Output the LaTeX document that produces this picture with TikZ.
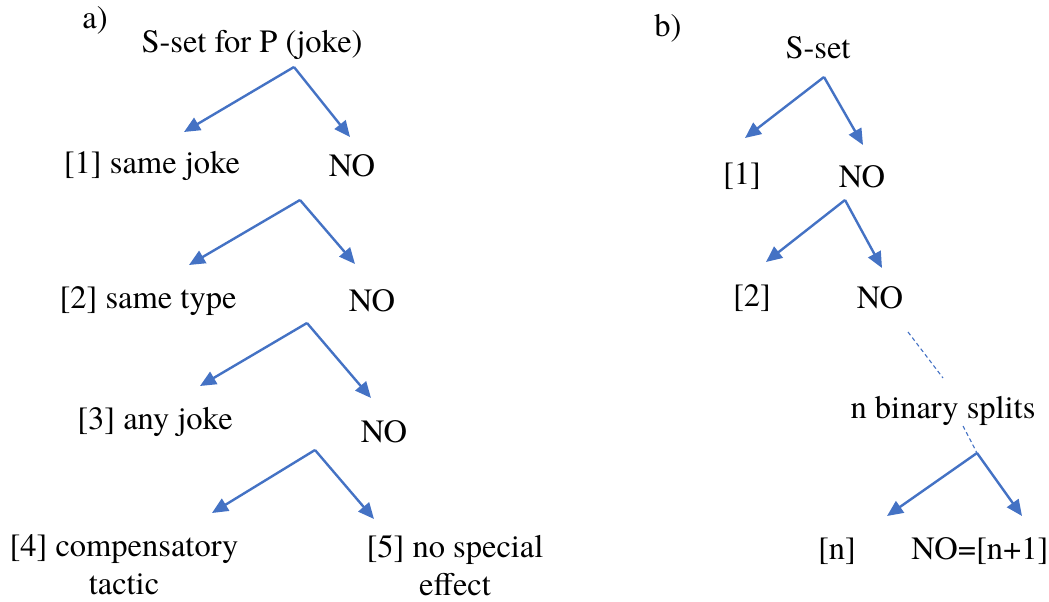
\documentclass[tikz,border=0pt]{standalone}
\usepackage{fontspec}
\setmainfont{texgyretermes-regular.otf}
\usetikzlibrary{arrows.meta}
\definecolor{arrblue}{HTML}{4472C4}
\tikzset{
  lbl/.style={inner sep=0pt, font=\fontsize{32.5}{38}\selectfont, align=center},
  branch/.style={draw=arrblue, line width=2.4pt, -{Triangle[length=16pt,width=14pt]}},
  dots/.style={draw=arrblue, line width=1.1pt, dash pattern=on 4pt off 3pt}
}
\begin{document}
\begin{tikzpicture}[x=1pt,y=-1pt]
\useasboundingbox (0,0) rectangle (1049,602);
% ---------- a) ----------
\node[lbl] (la) at (95,20) {a)};
\node[lbl] (root) at (252,45) {S-set for P (joke)};
\coordinate (a1) at (294,67);
\coordinate (a1l) at (184,132);
\coordinate (a1r) at (350,137);
\node[lbl] (s1) at (152,166) {[1] same joke};
\node[lbl] (n1) at (352,166) {NO};
\coordinate (a2) at (300,200);
\coordinate (a2l) at (189,265);
\coordinate (a2r) at (355,264);
\node[lbl] (s2) at (148,301) {[2] same type};
\node[lbl] (n2) at (372,301) {NO};
\coordinate (a3) at (307,323);
\coordinate (a3l) at (200,386);
\coordinate (a3r) at (371,398);
\node[lbl] (s3) at (155,422) {[3] any joke};
\node[lbl] (n3) at (384,432) {NO};
\coordinate (a4) at (315,450);
\coordinate (a4l) at (212,513);
\coordinate (a4r) at (374,519);
\node[lbl] (s4) at (124,565) {[4] compensatory\\tactic};
\node[lbl] (s5) at (455,565) {[5] no special\\effect};
\foreach \p in {1,2,3,4}{
  \draw[branch] (a\p) -- (a\p l);
  \draw[branch] (a\p) -- (a\p r);
}
% ---------- b) ----------
\node[lbl] (lb) at (668,28) {b)};
\node[lbl] (broot) at (818,48) {S-set};
\coordinate (b1) at (824,77);
\coordinate (b1l) at (745,138);
\coordinate (b1r) at (863,145);
\node[lbl] (t1) at (742,176) {[1]};
\node[lbl] (m1) at (862,177) {NO};
\coordinate (b2) at (845,200);
\coordinate (b2l) at (766,262);
\coordinate (b2r) at (882,268);
\node[lbl] (t2) at (752,298) {[2]};
\node[lbl] (m2) at (880,298) {NO};
\node[lbl] (splits) at (943,411) {n binary splits};
\coordinate (d1s) at (908,332);
\coordinate (d1e) at (943,378);
\coordinate (b3) at (977,453);
\coordinate (d2s) at (963,426);
\coordinate (b3l) at (887,516);
\coordinate (b3r) at (1022,516);
\node[lbl] (tn) at (837,551) {[n]};
\node[lbl] (mn) at (980,551) {NO=[n+1]};
\draw[branch] (b1) -- (b1l);
\draw[branch] (b1) -- (b1r);
\draw[branch] (b2) -- (b2l);
\draw[branch] (b2) -- (b2r);
\draw[dots] (d1s) -- (d1e);
\draw[dots] (d2s) -- (b3);
\draw[branch] (b3) -- (b3l);
\draw[branch] (b3) -- (b3r);
\end{tikzpicture}
\end{document}
